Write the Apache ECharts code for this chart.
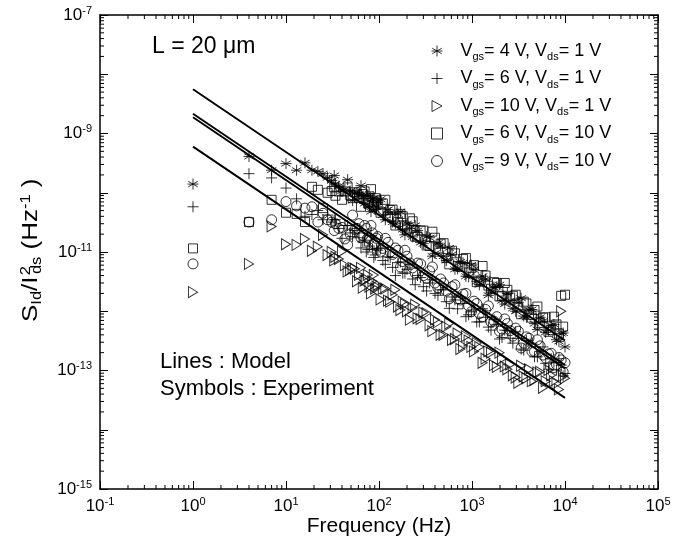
<!DOCTYPE html>
<html><head><meta charset="utf-8">
<script src="https://cdn.jsdelivr.net/npm/echarts@6/dist/echarts.min.js"></script>
<style>html,body{margin:0;padding:0;background:#fff}#c{width:689px;height:537px}</style>
</head><body><div id="c"></div>
<script>
// ---------- data ----------
// sweep A
const freq = [1,4,7,10,13,16,19,22,25,28,31,34,37,43,49,55,61,67,73,79,85,91,97,110,125,140,160,180,200,230,260,300,350,400,460,530,610,700,800,920,1050,1200,1400,1600,1850,2100,2400,2750,3150,3600,4100,4700,5400,6200,7100,8100,9100,10000];
const vgs4vds1 = [1.4e-10,4.1e-10,2.4e-10,3.1e-10,2.4e-10,3.2e-10,2.4e-10,2.3e-10,2.1e-10,1.8e-10,
 1.6e-10,1.4e-10,1.3e-10,1.15e-10,1.07e-10,1.0e-10,9.3e-11,8.7e-11,9.1e-11,6.0e-11,
 7.9e-11,5.2e-11,6.9e-11,4.2e-11,5.2e-11,3.2e-11,4.4e-11,2.4e-11,3.0e-11,1.8e-11,
 2.3e-11,1.38e-11,1.74e-11,9.5e-12,1.26e-11,7.2e-12,9.1e-12,5.2e-12,6.6e-12,3.8e-12,
 5.0e-12,2.8e-12,3.5e-12,2.1e-12,2.6e-12,1.51e-12,2.0e-12,1.12e-12,1.41e-12,8.3e-13,
 1.05e-12,6.2e-13,7.9e-13,4.4e-13,5.8e-13,3.3e-13,4.2e-13,2.5e-13];
const vgs6vds1 = [5.8e-11,2.1e-10,1.78e-10,1.2e-10,7.9e-11,4.0e-11,4.3e-11,5.0e-11,3.5e-11,4.2e-11,
 3.2e-11,3.5e-11,2.5e-11,2.8e-11,2.1e-11,2.3e-11,1.74e-11,1.48e-11,1.0e-11,1.26e-11,
 1.12e-11,8.9e-12,1.07e-11,7.2e-12,8.3e-12,5.5e-12,6.6e-12,4.4e-12,5.1e-12,3.5e-12,
 4.0e-12,2.6e-12,3.0e-12,2.0e-12,2.3e-12,1.45e-12,1.74e-12,1.10e-12,1.35e-12,8.7e-13,
 1.05e-12,6.6e-13,7.9e-13,4.8e-13,6.0e-13,3.6e-13,4.7e-13,2.9e-13,3.5e-13,2.2e-13,
 2.8e-13,1.7e-13,2.1e-13,1.32e-13,1.58e-13,1.02e-13,1.23e-13,8.9e-14];
const vgs10vds1 = [2.1e-12,6.3e-12,2.7e-11,1.35e-11,1.32e-11,1.66e-11,1.05e-11,1.23e-11,1.95e-11,8.9e-12,
 1.0e-11,8.3e-12,7.6e-12,6.0e-12,5.0e-12,5.2e-12,4.1e-12,2.5e-12,3.5e-12,2.6e-12,
 3.2e-12,2.4e-12,2.8e-12,2.4e-12,1.51e-12,1.9e-12,1.2e-12,1.45e-12,1.0e-12,1.15e-12,
 7.6e-13,9.5e-13,5.8e-13,7.2e-13,4.0e-13,5.5e-13,3.3e-13,4.2e-13,2.6e-13,3.2e-13,
 2.1e-13,2.5e-13,1.58e-13,2.0e-13,1.15e-13,1.58e-13,1.05e-13,8.3e-14,6.2e-14,7.9e-14,
 1.05e-13,6.9e-14,9.5e-14,6.6e-14,8.3e-14,6.0e-14,1.0e-12,7.4e-14];
const vgs6vds10 = [1.15e-11,3.2e-11,7.6e-11,4.6e-11,4.4e-11,3.2e-11,1.26e-10,1.12e-10,5.5e-11,1.0e-10,
 1.07e-10,8.9e-11,1.05e-10,1.05e-10,9.1e-11,1.02e-10,8.3e-11,9.5e-11,7.6e-11,8.7e-11,
 6.9e-11,8.1e-11,6.3e-11,6.6e-11,4.0e-11,5.2e-11,3.2e-11,4.0e-11,2.4e-11,3.3e-11,
 1.82e-11,2.3e-11,1.26e-11,1.74e-11,1.38e-11,7.9e-12,1.05e-11,5.8e-12,7.6e-12,4.5e-12,
 6.0e-12,3.3e-12,4.0e-12,2.4e-12,3.0e-12,1.82e-12,2.3e-12,1.82e-12,1.15e-12,1.45e-12,
 8.7e-13,1.05e-12,6.3e-13,7.9e-13,4.8e-13,6.0e-13,1.82e-12,1.9e-12];
const vgs9vds10 = [6.3e-12,3.2e-11,3.5e-11,7.1e-11,6.0e-11,5.5e-11,5.8e-11,3.2e-11,4.5e-11,3.5e-11,
 3.2e-11,3.0e-11,2.5e-11,1.66e-11,2.0e-11,2.4e-11,3.0e-11,1.9e-11,2.5e-11,1.66e-11,
 2.1e-11,1.41e-11,1.82e-11,1.15e-11,1.45e-11,9.1e-12,1.07e-11,6.9e-12,8.5e-12,5.4e-12,
 6.5e-12,4.0e-12,4.8e-12,3.0e-12,3.5e-12,2.2e-12,2.6e-12,1.62e-12,1.95e-12,1.23e-12,
 1.48e-12,9.1e-13,1.07e-12,6.6e-13,8.1e-13,5.0e-13,6.2e-13,3.8e-13,4.6e-13,2.9e-13,
 3.5e-13,2.1e-13,2.6e-13,1.62e-13,1.95e-13,1.26e-13,1.51e-13,1.35e-13];
// sweep B
const freqB = [33,40,46,52,58,64,70,76,82,88,94,104,117,132,150,170,190,215,245,280,325,375,430,495,570,655,750,860,985,1125,1300,1500,1725,1975,2250,2575,2950,3375,3850,4400,5050,5800,6650,7600,8600,9550];
const vgs4vds1B = [1.95e-10,1.07e-10,1.66e-10,7.4e-11,1.02e-10,1.32e-10,6.6e-11,8.9e-11,4.8e-11,8.1e-11,
 5.8e-11,7.8e-11,3.5e-11,4.6e-11,3.0e-11,4.8e-11,1.95e-11,2.5e-11,2.8e-11,1.45e-11,
 1.82e-11,8.5e-12,1.41e-11,8.5e-12,1.17e-11,5.1e-12,6.8e-12,3.9e-12,6.0e-12,3.2e-12,
 3.9e-12,1.86e-12,2.5e-12,2.8e-12,1.32e-12,1.51e-12,1.0e-12,1.66e-12,7.9e-13,1.07e-12,
 4.9e-13,6.8e-13,4.8e-13,6.0e-13,3.1e-13,4.3e-13];
const vgs6vds1B = [3.5e-11,1.7e-11,2.8e-11,1.82e-11,2.5e-11,1.17e-11,1.58e-11,1.1e-11,1.9e-11,8.1e-12,
 1.12e-11,1.15e-11,6.2e-12,8.1e-12,4.0e-12,6.8e-12,4.4e-12,6.2e-12,2.8e-12,3.7e-12,
 2.2e-12,3.4e-12,1.86e-12,2.3e-12,1.12e-12,1.55e-12,1.74e-12,8.1e-13,9.8e-13,6.6e-13,
 1.1e-12,5.4e-13,7.2e-13,3.4e-13,4.8e-13,3.5e-13,4.5e-13,2.3e-13,3.2e-13,2.9e-13,
 1.7e-13,2.5e-13,1.05e-13,1.38e-13,1.58e-13,8.1e-14];
const vgs10vds1B = [7.2e-12,1.02e-11,4.7e-12,5.4e-12,3.2e-12,5.4e-12,3.3e-12,4.1e-12,2.0e-12,4.1e-12,
 2.6e-12,1.58e-12,2.4e-12,1.45e-12,2.3e-12,1.05e-12,1.32e-12,7.2e-13,1.29e-12,7.4e-13,
 9.3e-13,4.6e-13,6.5e-13,4.0e-13,6.2e-13,3.4e-13,2.3e-13,3.8e-13,2.5e-13,2.9e-13,
 1.35e-13,2.1e-13,1.23e-13,2.0e-13,1.17e-13,1.26e-13,7.6e-14,1.2e-13,7.4e-14,6.6e-14,
 9.3e-14,5.1e-14,1.02e-13,6.6e-14,4.8e-14,8.1e-14];
const vgs6vds10B = [1.23e-10,7.6e-11,1.23e-10,8.1e-11,9.3e-11,5.8e-11,1.05e-10,6.6e-11,1.15e-10,5.9e-11,
 7.4e-11,4.6e-11,7.6e-11,5.1e-11,2.8e-11,4.4e-11,2.7e-11,3.7e-11,1.82e-11,2.3e-11,
 1.29e-11,2.2e-11,1.15e-11,1.41e-11,6.2e-12,9.5e-12,5.6e-12,7.9e-12,5.4e-12,3.1e-12,
 5.8e-12,2.7e-12,3.1e-12,1.78e-12,3.0e-12,1.7e-12,1.9e-12,8.9e-13,1.35e-12,7.8e-13,
 1.2e-12,7.8e-13,4.5e-13,8.1e-13,4.2e-13,5.5e-13];
const vgs9vds10B = [2.3e-11,2.6e-11,1.32e-11,4.2e-11,2.5e-11,1.74e-11,2.8e-11,1.74e-11,2.8e-11,1.38e-11,
 1.7e-11,1.0e-11,1.7e-11,1.0e-11,1.17e-11,5.6e-12,1.07e-11,6.5e-12,4.4e-12,6.3e-12,
 3.6e-12,5.6e-12,2.5e-12,3.0e-12,1.62e-12,2.8e-12,1.55e-12,2.0e-12,9.8e-13,1.35e-12,
 8.1e-13,1.23e-12,6.8e-13,4.6e-13,7.4e-13,4.7e-13,5.2e-13,2.4e-13,3.7e-13,2.1e-13,
 3.3e-13,1.82e-13,1.9e-13,1.12e-13,1.66e-13,9.5e-14];
// model lines (two end points each)
const modelFreq = [1, 10000];
const model1 = [5.6e-9, 3.2e-13];
const model2 = [2.15e-9, 1.24e-13];
const model3 = [1.88e-9, 1.08e-13];
const model4 = [6.0e-10, 3.45e-14];
// tick labels (powers of ten)
const xTickPowers = [-1,0,1,2,3,4,5];
const yTickPowers = [-15,-13,-11,-9,-7];
const seriesNames = ['Vgs= 4 V, Vds= 1 V','Vgs= 6 V, Vds= 1 V','Vgs= 10 V, Vds= 1 V','Vgs= 6 V, Vds= 10 V','Vgs= 9 V, Vds= 10 V'];
const legendRich = ['{v|V}{s|gs}{v|= 4 V, V}{s|ds}{v|= 1 V}','{v|V}{s|gs}{v|= 6 V, V}{s|ds}{v|= 1 V}','{v|V}{s|gs}{v|= 10 V, V}{s|ds}{v|= 1 V}','{v|V}{s|gs}{v|= 6 V, V}{s|ds}{v|= 10 V}','{v|V}{s|gs}{v|= 9 V, V}{s|ds}{v|= 10 V}'];
const yAxisTitle = '{m|S}{s|Id}{m|/I}{p|2}{s|ds}{m| (Hz}{e|-1}{m| )}';

// ---------- chart ----------
const FONT = 'Liberation Sans, Arial, Helvetica, sans-serif';
const chart = echarts.init(document.getElementById('c'), null, {renderer: 'canvas'});
const pair = (xs, ys) => xs.map((x, i) => [x, ys[i]]);
const XMIN = 0.1, XMAX = 1e5, YMIN = 1e-15, YMAX = 1e-7;

// minor tick positions (2..9 x 10^k) -- axis decoration only
const minorX = [], minorY = [];
for (let k = -1; k < 5; k++) for (let m = 2; m <= 9; m++) minorX.push([m * Math.pow(10, k), YMIN]);
for (let k = -15; k < -7; k++) for (let m = 2; m <= 9; m++) minorY.push([XMIN, m * Math.pow(10, k)]);

const SYM_AST = 'path://M5,0 L5,10 M0.7,2.5 L9.3,7.5 M0.7,7.5 L9.3,2.5 M0,5 L10,5';
const SYM_PLUS = 'path://M0,5 L10,5 M5,0 L5,10';
const SYM_TRI = 'path://M0,0 L10,5.5 L0,11 Z';
const symbols = [SYM_AST, SYM_PLUS, SYM_TRI, 'rect', 'circle'];
const sizes = [11, 11, [10, 11], 9, 10];
const dataA = [vgs4vds1, vgs6vds1, vgs10vds1, vgs6vds10, vgs9vds10];
const dataB = [vgs4vds1B, vgs6vds1B, vgs10vds1B, vgs6vds10B, vgs9vds10B];

const scatterSeries = dataA.map((d, i) => ({
  type: 'scatter', name: seriesNames[i], xAxisIndex: 0, yAxisIndex: 0,
  data: pair(freq, d).concat(pair(freqB, dataB[i])),
  symbol: symbols[i], symbolSize: sizes[i], symbolKeepAspect: true,
  itemStyle: {color: 'rgba(0,0,0,0)', borderColor: '#000', borderWidth: 1},
  z: 2
}));
const lineSeries = [model1, model2, model3, model4].map(m => ({
  type: 'line', data: pair(modelFreq, m), showSymbol: false, symbol: 'none',
  lineStyle: {color: '#000', width: 1.9}, z: 4, silent: true
}));

function tickRender(params, api) {
  const isX = params.seriesName === 'minorX';
  const v = isX ? api.value(0) : api.value(1);
  const len = 4;
  if (isX) {
    const b = api.coord([v, YMIN]), t = api.coord([v, YMAX]);
    return {type: 'group', children: [
      {type: 'line', shape: {x1: b[0], y1: b[1], x2: b[0], y2: b[1] - len}, style: {stroke: '#000', lineWidth: 1}},
      {type: 'line', shape: {x1: t[0], y1: t[1], x2: t[0], y2: t[1] + len}, style: {stroke: '#000', lineWidth: 1}}
    ]};
  } else {
    const l = api.coord([XMIN, v]), r = api.coord([XMAX, v]);
    return {type: 'group', children: [
      {type: 'line', shape: {x1: l[0], y1: l[1], x2: l[0] + len, y2: l[1]}, style: {stroke: '#000', lineWidth: 1}},
      {type: 'line', shape: {x1: r[0], y1: r[1], x2: r[0] - len, y2: r[1]}, style: {stroke: '#000', lineWidth: 1}}
    ]};
  }
}

const supRich = {
  b: {fontSize: 17, fontFamily: FONT, color: '#000'},
  e: {fontSize: 11, fontFamily: FONT, color: '#000', padding: [0, 0, 9, 0]}
};

const baseAxis = {
  type: 'log', logBase: 10,
  axisLine: {show: true, lineStyle: {color: '#000', width: 1.5}},
  axisTick: {show: true, inside: true, length: 8, lineStyle: {color: '#000', width: 1}},
  splitLine: {show: false}, minorTick: {show: false}
};

const option = {
  animation: false,
  backgroundColor: '#fff',
  grid: {left: 100, right: 31, top: 15, bottom: 48, containLabel: false, outerBoundsMode: 'none'},
  xAxis: [
    Object.assign({}, baseAxis, {
      position: 'bottom', min: XMIN, max: XMAX, interval: 1,
      name: 'Frequency (Hz)', nameLocation: 'middle', nameGap: 27, nameMoveOverlap: false,
      nameTextStyle: {fontSize: 21, fontFamily: FONT, color: '#000'},
      axisLabel: {margin: 7, rich: supRich,
        formatter: v => { const e = Math.round(Math.log10(v)); return xTickPowers.includes(e) ? '{b|10}{e|' + e + '}' : ''; }}
    }),
    Object.assign({}, baseAxis, {position: 'top', min: XMIN, max: XMAX, interval: 1, axisLabel: {show: false}})
  ],
  yAxis: [
    Object.assign({}, baseAxis, {
      position: 'left', min: YMIN, max: YMAX, interval: 1,
      axisLabel: {margin: 8, rich: supRich,
        formatter: v => { const e = Math.round(Math.log10(v)); return yTickPowers.includes(e) ? '{b|10}{e|' + e + '}' : ''; }}
    }),
    Object.assign({}, baseAxis, {position: 'right', min: YMIN, max: YMAX, interval: 1, axisLabel: {show: false}})
  ],
  legend: {
    orient: 'vertical', left: 426, top: 37, itemGap: 7, itemWidth: 11, itemHeight: 11,
    data: seriesNames, selectedMode: false,
    itemStyle: {borderWidth: 1, borderColor: '#000'},
    formatter: name => legendRich[seriesNames.indexOf(name)],
    textStyle: {rich: {
      v: {fontSize: 18, fontFamily: FONT, color: '#000'},
      s: {fontSize: 11, fontFamily: FONT, color: '#000', padding: [12, 0, 0, 0]}
    }, padding: [0, 0, 0, 13]}
  },
  graphic: [
    {type: 'text', left: 152, top: 35, style: {text: 'L = 20 \u03bcm', font: '23px ' + FONT, fill: '#000'}},
    {type: 'text', left: 160, top: 351, style: {text: 'Lines : Model', font: '22px ' + FONT, fill: '#000'}},
    {type: 'text', left: 160, top: 378, style: {text: 'Symbols : Experiment', font: '22px ' + FONT, fill: '#000'}},
    {type: 'text', x: 31, y: 322, rotation: Math.PI / 2, scaleX: 1.18, z: 20,
      style: {text: yAxisTitle, align: 'left', verticalAlign: 'middle', fill: '#000', rich: {
        m: {fontSize: 22, fontFamily: FONT, fill: '#000', align: 'left'},
        s: {fontSize: 14, fontFamily: FONT, fill: '#000', align: 'left', padding: [12, 0, 0, 0]},
        p: {fontSize: 14, fontFamily: FONT, fill: '#000', width: 1, align: 'left', padding: [0, 0, 10, 1]},
        e: {fontSize: 14, fontFamily: FONT, fill: '#000', align: 'left', padding: [0, 0, 10, 0]}
      }}}
  ],
  series: scatterSeries.concat(lineSeries).concat([
    {type: 'custom', name: 'minorX', data: minorX, renderItem: tickRender, silent: true, clip: false, z: 10},
    {type: 'custom', name: 'minorY', data: minorY, renderItem: tickRender, silent: true, clip: false, z: 10}
  ])
};
chart.setOption(option);
</script>
</body></html>
